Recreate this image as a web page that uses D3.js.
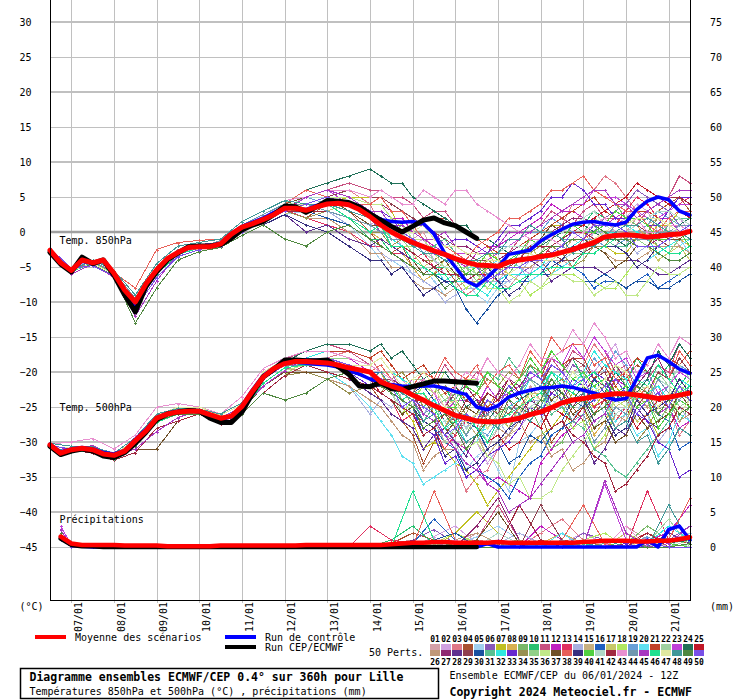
<!DOCTYPE html>
<html><head><meta charset="utf-8">
<script src="https://cdn.jsdelivr.net/npm/d3@7"></script>
<style>body{margin:0;background:#fff}svg{display:block}</style>
</head><body><svg id="c" width="740" height="700"></svg>
<script>
// ---------------- DATA ----------------
const DAY_LABELS = ["07/01","08/01","09/01","10/01","11/01","12/01","13/01","14/01","15/01","16/01","17/01","18/01","19/01","20/01","21/01"];
const DAY_HOURS = [12,36,60,84,108,132,156,180,204,228,252,276,300,324,348];
const LEFT_TICKS = [30,25,20,15,10,5,0,-5,-10,-15,-20,-25,-30,-35,-40,-45];
const RIGHT_TICKS = [75,70,65,60,55,50,45,40,35,30,25,20,15,10,5,0];
const MEMBER_LABELS = ["01","02","03","04","05","06","07","08","09","10","11","12","13","14","15","16","17","18","19","20","21","22","23","24","25","26","27","28","29","30","31","32","33","34","35","36","37","38","39","40","41","42","43","44","45","46","47","48","49","50"];
const MEMBER_COLORS = ["#d4a0a8","#d0a0e0","#e07888","#a85030","#a0d0f0","#8858b8","#c0c020","#d8b050","#78b868","#28c070","#c85080","#c020c0","#e03060","#a8b0e0","#c8b080","#2060c0","#c8c868","#b0e860","#68a0d8","#60e0f0","#c04028","#a0d0a0","#c040d8","#207058","#c01828",
"#c09878","#902870","#603090","#904050","#1850a0","#58c090","#30e8e0","#6828d0","#989050","#90d088","#c0e888","#705028","#e86058","#383080","#50d040","#b0d8c8","#a02840","#e890d0","#7098b0","#a838c0","#20e090","#e0e8a0","#409898","#508840","#7850e8"];

// time steps (hours after 06/01 12Z)
const MAIN_HOURS = d3.range(0, 361, 6);
const MEMBER_HOURS = d3.range(0, 181, 12).concat(d3.range(186, 361, 6));
const PRECIP_MAIN_HOURS = d3.range(6, 361, 6);
const PRECIP_MEMBER_HOURS = [6].concat(d3.range(12, 361, 12));

const T850_MEAN = [-2.6,-4.4,-5.5,-4.0,-4.4,-4.0,-5.9,-8.3,-10.0,-7.4,-5.4,-3.8,-2.9,-2.2,-2.1,-2.1,-1.7,-0.3,0.7,1.2,1.8,2.5,3.4,3.4,3.1,3.6,4.0,4.1,3.9,3.2,2.2,1.0,0.0,-0.8,-1.5,-2.1,-2.7,-3.2,-3.8,-4.3,-4.7,-4.8,-4.9,-4.3,-4.0,-3.8,-3.5,-3.3,-2.9,-2.5,-2.0,-1.5,-0.7,-0.5,-0.4,-0.5,-0.7,-0.6,-0.4,-0.3,0.1];
const T850_OPER = [-2.9,-4.6,-5.7,-3.6,-4.5,-4.0,-6.2,-9.0,-11.4,-7.8,-5.7,-4.0,-3.0,-2.1,-2.0,-2.0,-1.8,-0.9,0.3,1.0,1.5,2.5,3.7,3.6,2.8,3.6,4.5,4.4,4.2,3.6,2.6,1.7,0.8,0.0,0.8,1.7,2.0,1.3,0.9,0.0,-0.9];
const T850_CONTROL = [-2.7,-4.5,-5.6,-4.2,-4.5,-4.1,-6.0,-8.6,-10.5,-7.6,-5.5,-3.9,-3.0,-2.3,-2.0,-2.0,-1.6,-0.2,0.8,1.4,2.0,2.8,3.5,3.4,3.2,3.8,4.2,4.3,4.0,3.5,2.5,1.8,1.5,1.4,1.5,1.2,-0.3,-3.0,-5.0,-7.0,-7.7,-6.5,-5.0,-3.2,-2.9,-2.6,-1.3,-0.4,0.4,1.1,1.4,1.5,1.2,1.0,1.4,3.2,4.4,5.0,4.6,3.0,2.4];

const T500_MEAN = [-30.4,-31.6,-31.1,-30.9,-31.1,-31.7,-31.9,-31.3,-29.8,-28.4,-26.6,-26.0,-25.7,-25.6,-25.6,-26.1,-26.6,-26.3,-24.9,-22.7,-20.7,-19.5,-18.8,-18.5,-18.5,-18.6,-18.7,-19.0,-19.4,-19.7,-20.0,-21.4,-22.0,-22.5,-23.3,-24.0,-24.8,-25.5,-26.2,-26.6,-27.0,-27.1,-27.1,-26.9,-26.6,-26.1,-25.7,-25.1,-24.4,-24.0,-23.8,-23.5,-23.3,-23.1,-23.1,-23.3,-23.5,-23.8,-23.6,-23.3,-23.0];
const T500_OPER = [-30.6,-31.8,-31.3,-31.0,-31.3,-32.0,-32.2,-31.5,-30.2,-28.6,-26.8,-26.0,-25.7,-25.5,-25.6,-26.6,-27.2,-27.2,-25.7,-23.0,-20.7,-19.6,-18.3,-18.3,-18.4,-18.4,-18.3,-19.2,-20.3,-22.0,-22.1,-21.5,-22.4,-22.5,-22.1,-21.7,-21.3,-21.3,-21.4,-21.5,-21.6];
const T500_CONTROL = [-30.3,-31.4,-31.0,-30.8,-31.0,-31.5,-31.7,-31.2,-29.6,-28.2,-26.5,-25.9,-25.6,-25.5,-25.7,-26.2,-26.8,-26.4,-24.8,-22.5,-20.5,-19.4,-18.7,-18.6,-18.7,-18.9,-19.0,-19.3,-19.8,-20.3,-21.0,-21.5,-21.8,-22.0,-22.1,-22.0,-22.0,-22.3,-22.8,-23.2,-25.0,-25.4,-24.8,-23.6,-23.0,-22.6,-22.3,-22.2,-22.0,-22.2,-22.6,-23.0,-23.5,-24.0,-23.8,-21.0,-18.0,-17.6,-18.5,-19.6,-20.2];

const PRECIP_MEAN = [1.5,0.5,0.3,0.3,0.3,0.3,0.2,0.2,0.2,0.2,0.1,0.1,0.1,0.1,0.1,0.2,0.2,0.2,0.2,0.2,0.2,0.2,0.2,0.3,0.3,0.3,0.3,0.3,0.3,0.3,0.3,0.4,0.5,0.6,0.6,0.7,0.7,0.6,0.6,0.6,0.6,0.7,0.6,0.6,0.6,0.6,0.6,0.6,0.6,0.7,0.8,0.9,0.9,0.9,0.8,0.8,0.9,0.9,1.1,1.4];
const PRECIP_OPER = [1.2,0.3,0.1,0.1,0,0,0,0,0,0,0,0,0,0,0,0,0,0,0,0,0,0,0,0,0,0,0,0,0,0,0,0,0,0,0,0,0,0,0,0];
const PRECIP_CONTROL = [1.3,0.4,0.1,0,0,0,0,0,0,0,0,0,0,0,0,0,0,0,0,0,0,0,0,0,0,0,0,0,0,0,0,0,0,0,0,0,0,0,0,0,0.5,0,0,0,0,0,0,0,0,0,0,0,0,0,0,1,0,2.5,3,1];

// member starts (0h..132h every 12h), a few close variants
const T850_START_A = [-2.5,-5.5,-4.5,-6,-10,-5.5,-3,-2,-1.5,0.5,2,3.5];
const T850_START_B = [-2.8,-5.8,-4.2,-5.7,-9.5,-5,-2.5,-2.2,-1.2,1,2.5,4];
const T850_START_C = [-2.3,-5.2,-4.8,-6.3,-11,-6.5,-3.5,-2.5,-2,0,1.5,3];
const T850_START_D = [-2.6,-6,-4.6,-6.5,-12,-7,-3,-1.8,-1.5,0.5,2,3];
const T850_START_E = [-2.4,-5.5,-4,-5.5,-9,-4.5,-2,-1.5,-1,1.5,3,4.5];
const T850_START_F = [-3,-5.7,-4.4,-6,-10.5,-6,-3.2,-2.3,-1.7,0.2,1.8,3.2];
const T850_START_G = [-2.7,-5.3,-4.7,-6.2,-13,-8,-4,-2.8,-2.2,-0.5,1,2.5];
const T850_START_H = [-2.5,-5.6,-4.3,-5.8,-8,-2.5,-1.5,-1.2,-1,1,2.5,4];

// each member: start (12) + 144..180h (4) + 186..360h every 6h (30)
const T850_MEMBERS = [
 [...T850_START_A,5,6,5,3, 3,1,-1,-1,0,-3,-5,-5,-5,-6,-5,-7,-8,-6,-4,-5,-4,-4,-5,-3,0,-1,-2,0,2,1,1,0,-2,-1],
 [...T850_START_B,6,5,3,1, 2,0,-2,-2,-1,-4,-6,-6,-5,-8,-9,-7,-5,-5,-6,-3,-1,-2,-3,-1,1,0,1,2,4,3,0,1,2,0],
 [...T850_START_C,4,5,6,4, 1,1,-1,-2,-3,-5,-5,-7,-9,-8,-5,-6,-5,-4,-1,-2,-1,1,4,5,6,8,7,5,3,2,1,-1,0,-2],
 [...T850_START_D,2,4,3,0, -2,-3,-2,-5,-7,-6,-5,-7,-7,-6,-4,-5,-4,-3,-2,-4,-6,-5,-5,-3,-1,-1,0,1,3,2,3,4,5,3],
 [...T850_START_G,3,2,1,-2, -4,-4,-5,-6,-5,-7,-9,-8,-7,-9,-10,-8,-7,-6,-4,-5,-5,-4,-3,-2,-2,0,0,1,2,0,-1,-2,-1,-3],
 [...T850_START_H,4,5,4,2, 0,0,1,-1,-3,-2,-1,-3,-4,-4,-3,-5,-7,-6,-5,-4,-3,-2,0,0,0,2,3,4,6,5,4,3,1,2],
 [...T850_START_E,3,4,5,5, 5,3,0,1,-1,-1,0,-2,-3,-3,-2,-4,-4,-3,-2,-1,1,1,0,0,-2,-2,-3,-3,-1,-1,1,1,3,2],
 [...T850_START_F,4,3,2,0, -1,-3,-3,-5,-7,-6,-4,-5,-5,-4,-3,-5,-6,-7,-7,-6,-6,-4,-2,-2,0,-1,0,0,1,-1,-2,-3,-1,-2],
 [...T850_START_A,4,4,3,1, 1,-1,-1,-3,-5,-4,-3,-4,-5,-5,-5,-6,-6,-4,-2,-2,-2,-1,0,1,2,3,4,2,1,0,-2,-1,0,1],
 [...T850_START_B,3,4,2,-1, -1,-3,-3,-4,-6,-5,-5,-6,-7,-6,-4,-4,-3,-2,-2,-1,1,0,0,1,3,2,0,1,0,-1,-3,-2,-1,0],
 [...T850_START_C,5,6,7,6, 6,5,5,4,2,3,3,1,0,-1,-2,-3,-3,-1,0,1,3,2,1,3,4,2,2,1,1,3,4,5,8,7],
 [...T850_START_E,4,5,5,3, 3,2,2,0,-1,-2,-3,-4,-5,-3,-2,-2,-1,0,1,2,4,3,3,2,1,1,2,3,5,4,2,2,0,1],
 [...T850_START_F,2,1,0,-2, -2,-3,-3,-4,-3,-5,-6,-6,-8,-7,-6,-7,-6,-5,-4,-4,-2,-3,-3,-1,0,1,1,3,5,4,2,3,4,5],
 [...T850_START_D,4,3,1,-1, -3,-4,-4,-6,-7,-8,-10,-9,-8,-8,-7,-7,-7,-6,-4,-5,-4,-3,-2,-2,0,0,0,-1,-3,-2,-1,-1,1,0],
 [...T850_START_A,3,4,4,2, 2,0,-1,-2,-2,-3,-4,-3,-3,-4,-6,-5,-4,-5,-5,-4,-3,-3,-1,-2,-2,-1,1,0,0,1,2,0,-1,-1],
 [...T850_START_B,4,5,4,3, 3,1,0,-1,-1,-3,-4,-5,-5,-7,-8,-8,-6,-7,-7,-6,-4,-5,-5,-6,-8,-7,-7,-8,-7,-6,-8,-7,-6,-5],
 [...T850_START_G,4,3,4,2, 1,-1,-1,-3,-5,-4,-3,-5,-6,-5,-4,-4,-4,-3,-2,-4,-4,-3,-2,-1,1,0,0,-1,-1,-2,-4,-3,-2,-4],
 [...T850_START_E,4,5,3,1, 1,-1,-2,-2,-3,-4,-5,-6,-8,-7,-5,-6,-6,-7,-9,-8,-7,-6,-6,-7,-7,-8,-8,-6,-4,-5,-6,-6,-5,-4],
 [...T850_START_F,5,4,3,2, 1,0,0,-1,-3,-2,-1,-2,-3,-3,-3,-2,-2,-1,0,0,2,1,0,-1,-1,-2,-2,-1,0,1,3,2,1,0],
 [...T850_START_C,3,3,2,1, 1,-1,-1,-3,-4,-5,-7,-6,-5,-5,-5,-4,-4,-5,-7,-6,-6,-5,-4,-3,-3,-2,-2,-3,-5,-4,-3,-2,-2,-1],
 [...T850_START_A,5,6,5,3, 3,2,0,1,2,2,2,1,0,-1,-2,-3,-3,-2,-1,0,1,2,3,4,5,3,2,2,3,3,2,1,1,2],
 [...T850_START_D,3,4,4,2, 1,0,-1,-2,-2,-4,-5,-5,-5,-6,-7,-6,-6,-5,-4,-3,-2,-2,-1,0,2,1,0,0,0,-1,-1,0,1,1],
 [...T850_START_E,5,6,4,3, 3,2,1,0,1,-1,-2,-3,-3,-4,-4,-3,-2,-1,0,1,2,3,4,4,6,5,5,4,3,2,2,3,4,4],
 [...T850_START_B,6,7,8,9, 8,7,7,5,4,3,2,1,1,-1,-1,-2,-3,-3,-3,-2,-1,0,1,1,0,-1,-1,-2,-1,0,0,1,1,2],
 [...T850_START_F,5,5,4,3, 2,1,0,-1,-2,-3,-3,-5,-7,-6,-6,-5,-4,-4,-4,-3,-2,-1,0,1,2,3,4,5,7,6,5,4,3,2],
 [...T850_START_C,2,2,0,-3, -3,-5,-5,-7,-8,-8,-9,-8,-7,-7,-7,-6,-6,-5,-5,-4,-3,-3,-2,-2,-2,-3,-4,-4,-4,-3,-2,-2,-2,-3],
 [...T850_START_A,5,6,5,4, 4,3,3,2,1,0,-1,-2,-2,-3,-4,-4,-3,-2,-2,-1,0,1,2,2,1,0,-1,-1,-2,-2,-1,0,0,1],
 [...T850_START_G,0,1,-1,-2, -1,-2,-3,-4,-5,-6,-8,-7,-7,-6,-5,-5,-4,-4,-4,-5,-7,-6,-5,-5,-5,-6,-5,-4,-4,-5,-6,-6,-5,-4],
 [...T850_START_E,4,5,6,5, 5,4,3,2,1,0,-1,-2,-3,-4,-4,-5,-4,-3,-2,-2,-3,-4,-4,-3,-2,-1,0,1,1,0,-1,-2,-1,-1],
 [...T850_START_D,3,2,1,-1, -2,-3,-4,-5,-6,-6,-7,-8,-11,-13,-11,-9,-8,-7,-6,-6,-6,-6,-7,-7,-7,-6,-7,-8,-7,-7,-8,-8,-7,-6],
 [...T850_START_B,4,4,3,1, 1,0,1,-1,-2,-2,-1,-3,-4,-4,-3,-4,-5,-3,-2,-2,0,-1,-1,0,1,-1,-2,-2,0,-1,-1,1,2,2],
 [...T850_START_F,4,5,4,2, 2,-1,-2,-4,-5,-6,-8,-7,-7,-8,-9,-7,-6,-6,-6,-5,-3,-3,-2,-1,1,0,0,1,0,-1,-3,-2,-1,0],
 [...T850_START_A,5,6,5,3, 3,2,0,1,1,0,-2,-1,-1,-2,-3,-1,1,1,2,3,5,5,7,6,4,4,2,2,3,1,1,3,5,5],
 [...T850_START_C,2,3,2,0, 0,-2,-1,-3,-4,-4,-3,-5,-6,-6,-4,-5,-3,-3,-3,-2,-2,-3,-5,-4,-2,-2,0,-1,-1,0,2,1,0,-1],
 [...T850_START_E,3,4,3,1, 1,-1,-1,-3,-4,-5,-6,-6,-5,-7,-8,-6,-4,-4,-4,-3,-1,-2,-3,-3,-1,-1,1,0,-1,-2,-2,-3,-1,-1],
 [...T850_START_D,4,5,5,4, 4,2,1,-1,-1,-3,-5,-4,-4,-6,-8,-8,-10,-9,-7,-8,-6,-6,-7,-7,-9,-8,-7,-9,-9,-7,-5,-6,-6,-5],
 [...T850_START_B,5,5,3,1, 1,-2,-2,-4,-6,-5,-4,-6,-6,-5,-3,-4,-4,-3,-1,-1,1,0,0,-1,-2,-3,-5,-4,-2,-2,0,-1,-1,0],
 [...T850_START_H,6,5,4,4, 5,3,3,1,-1,-1,-2,-3,-4,-2,-1,0,2,2,3,4,6,6,7,8,6,5,4,3,3,1,0,2,3,3],
 [...T850_START_G,1,0,-2,-4, -4,-6,-5,-7,-9,-8,-7,-7,-6,-6,-5,-7,-9,-8,-6,-6,-5,-4,-2,-3,-3,-2,-2,-3,-5,-4,-2,-3,-3,-2],
 [...T850_START_F,4,4,3,2, 2,0,0,-2,-3,-3,-3,-4,-6,-5,-3,-4,-4,-3,-1,-2,-2,-1,1,0,0,1,3,2,2,1,-1,-1,0,-2],
 [...T850_START_A,5,5,4,2, 2,0,0,-2,-3,-4,-5,-5,-4,-4,-3,-3,-2,-2,-2,-1,0,0,1,2,3,1,0,0,1,2,3,3,2,1],
 [...T850_START_C,3,3,2,0, 1,-2,-2,-3,-4,-5,-6,-6,-7,-6,-5,-5,-5,-4,-2,-2,-2,-1,0,0,-1,-1,0,1,2,3,4,5,5,4],
 [...T850_START_E,5,6,6,5, 6,5,4,4,6,5,4,6,6,4,3,2,1,0,-1,-1,-1,-2,-1,0,1,2,0,1,2,0,0,1,1,0],
 [...T850_START_B,4,3,2,1, 0,-1,-1,-2,-2,-3,-4,-4,-4,-5,-6,-5,-4,-4,-4,-3,-2,-2,-3,-2,-1,-1,1,0,-1,-1,0,0,1,1],
 [...T850_START_D,5,6,5,3, 3,1,1,0,-1,-1,0,-2,-3,-3,-3,-2,0,0,0,1,2,3,4,5,6,6,4,4,2,3,4,5,6,6],
 [...T850_START_F,3,4,2,0, 1,-2,-2,-4,-5,-6,-6,-8,-9,-9,-7,-8,-8,-7,-6,-6,-5,-5,-5,-3,-3,-2,-1,-1,-2,-2,-2,-3,-3,-2],
 [...T850_START_A,4,5,4,2, 2,1,0,0,1,-1,-2,-2,-3,-3,-4,-4,-6,-5,-3,-4,-4,-3,-3,-2,-1,0,1,1,2,2,2,1,0,0],
 [...T850_START_E,4,4,3,2, 1,0,-1,-2,-3,-3,-4,-4,-4,-4,-3,-3,-1,-1,1,0,0,-1,-3,-2,-2,-1,0,1,1,2,1,0,0,-1],
 [-2.7,-5.3,-4.7,-6.2,-13,-8,-4,-2.8,-2.2,-0.5,1,-1,-2,0,1,-1, -2,-3,-4,-5,-6,-6,-8,-7,-6,-6,-5,-5,-4,-4,-4,-3,-2,-2,-1,-1,1,0,-1,-1,-2,-2,-3,-4,-4,-3],
 [...T850_START_C,4,5,4,3, 2,1,0,-1,-2,-3,-3,-4,-4,-5,-7,-6,-5,-5,-4,-4,-3,-2,0,-1,1,1,1,0,-2,-2,-2,-1,0,1]
];

const T500_START_A = [-30.5,-31,-31,-32,-30,-26.5,-25.5,-25.5,-26.5,-25,-21,-19];
const T500_START_B = [-30.2,-30.6,-30.7,-31.6,-29.4,-26,-25.2,-25.3,-26,-24.4,-20.4,-18.6];
const T500_START_C = [-30.8,-31.4,-31.3,-32.4,-30.6,-27.2,-26,-25.8,-27,-25.6,-21.6,-19.4];
const T500_START_D = [-30.4,-31.2,-30.5,-32,-31,-28.5,-26.5,-25.5,-26.8,-25.3,-22,-19.8];
const T500_START_E = [-30.6,-30.9,-31.2,-31.8,-29.7,-26.2,-25,-25,-26.2,-24.6,-20,-18.2];
const T500_START_F = [-30.5,-31.1,-31.6,-32.6,-31.5,-28,-27,-26,-27.5,-26,-23,-20.5];
const T500_START_G = [-30.5,-31,-31,-32,-31,-31,-27,-26,-27,-25.5,-22,-20];
const T500_START_H = [-30.3,-30,-29.5,-31,-29,-25,-24.5,-25,-26,-23.5,-19.5,-18];

const T500_MEMBERS = [
 [...T500_START_A,-18,-18,-19,-20, -21,-22,-25,-24,-27,-26,-30,-28,-27,-29,-31,-28,-25,-26,-22,-24,-25,-23,-20,-22,-25,-24,-28,-26,-23,-25,-21,-23,-24,-22],
 [...T500_START_B,-18,-17,-18,-19, -18,-20,-21,-23,-26,-25,-24,-27,-31,-30,-33,-31,-29,-28,-26,-24,-20,-21,-18,-19,-20,-18,-16,-20,-23,-22,-26,-24,-21,-23],
 [...T500_START_C,-19,-18,-17,-18, -20,-21,-22,-25,-28,-29,-31,-33,-37,-35,-34,-31,-29,-27,-24,-25,-22,-22,-20,-19,-16,-18,-21,-20,-24,-23,-22,-25,-29,-27],
 [...T500_START_D,-19,-19,-20,-22, -24,-26,-27,-29,-33,-30,-28,-29,-26,-27,-24,-25,-26,-24,-23,-26,-30,-28,-25,-27,-26,-24,-21,-21,-19,-20,-23,-22,-25,-24],
 [...T500_START_E,-19,-19,-20,-21, -21,-23,-24,-26,-29,-28,-27,-30,-34,-32,-31,-34,-37,-30,-29,-27,-24,-25,-27,-24,-23,-26,-29,-28,-26,-27,-24,-25,-22,-24],
 [...T500_START_H,-18,-18,-18,-19, -18,-20,-22,-21,-20,-22,-24,-23,-23,-25,-28,-27,-24,-26,-25,-24,-21,-22,-19,-20,-22,-21,-24,-23,-22,-24,-20,-22,-23,-21],
 [...T500_START_A,-18,-19,-20,-21, -23,-24,-25,-27,-31,-30,-31,-33,-34,-36,-39,-37,-35,-33,-31,-29,-28,-26,-23,-24,-25,-23,-22,-24,-27,-26,-29,-28,-25,-26],
 [...T500_START_F,-19,-18,-19,-21, -20,-23,-25,-24,-23,-26,-28,-25,-22,-24,-25,-23,-21,-22,-20,-21,-24,-23,-26,-25,-29,-27,-25,-26,-22,-24,-23,-22,-19,-21],
 [...T500_START_B,-19,-19,-19,-20, -21,-22,-22,-25,-28,-27,-25,-27,-29,-26,-24,-25,-28,-26,-25,-28,-31,-30,-27,-28,-26,-25,-21,-23,-24,-22,-25,-24,-27,-25],
 [...T500_START_C,-18,-18,-19,-20, -19,-21,-20,-22,-25,-23,-22,-25,-28,-26,-24,-25,-22,-23,-19,-21,-22,-20,-18,-21,-24,-23,-20,-22,-18,-20,-21,-19,-22,-20],
 [...T500_START_E,-17,-16,-17,-19, -20,-21,-24,-23,-21,-22,-19,-21,-22,-20,-21,-22,-25,-24,-21,-22,-18,-20,-17,-18,-15,-17,-20,-19,-23,-21,-19,-20,-16,-18],
 [...T500_START_A,-18,-17,-18,-20, -21,-22,-23,-24,-26,-27,-29,-30,-31,-33,-36,-35,-36,-37,-38,-33,-31,-29,-28,-26,-23,-24,-21,-22,-25,-23,-26,-25,-28,-27],
 [...T500_START_D,-19,-20,-21,-22, -23,-24,-27,-26,-27,-28,-31,-29,-27,-28,-25,-26,-27,-25,-23,-24,-22,-23,-24,-22,-25,-24,-27,-25,-22,-23,-20,-21,-23,-22],
 [...T500_START_B,-19,-20,-22,-26, -24,-25,-23,-24,-26,-24,-23,-25,-28,-26,-25,-27,-29,-26,-24,-24,-22,-23,-24,-22,-20,-21,-24,-23,-27,-26,-30,-28,-25,-27],
 [...T500_START_C,-19,-19,-20,-20, -21,-21,-24,-23,-23,-25,-28,-27,-27,-29,-32,-30,-29,-28,-25,-26,-25,-24,-22,-23,-21,-22,-25,-24,-23,-25,-26,-24,-22,-23],
 [...T500_START_E,-18,-18,-19,-20, -20,-22,-24,-25,-29,-28,-30,-31,-35,-34,-35,-36,-38,-35,-33,-32,-29,-28,-27,-25,-24,-23,-20,-22,-25,-24,-26,-27,-31,-30],
 [...T500_START_A,-19,-18,-19,-19, -18,-20,-21,-22,-25,-24,-23,-25,-27,-26,-24,-26,-28,-25,-23,-23,-20,-21,-22,-20,-23,-22,-25,-24,-27,-26,-24,-25,-22,-23],
 [...T500_START_F,-18,-19,-20,-21, -22,-23,-26,-24,-22,-23,-20,-22,-21,-21,-18,-20,-22,-21,-24,-23,-26,-25,-28,-27,-31,-29,-26,-27,-23,-24,-20,-22,-23,-21],
 [...T500_START_B,-19,-19,-19,-20, -19,-21,-23,-22,-22,-24,-27,-26,-26,-28,-29,-27,-24,-25,-26,-24,-21,-22,-20,-21,-18,-20,-17,-19,-22,-21,-24,-22,-19,-20],
 [...T500_START_D,-19,-20,-22,-25, -27,-29,-32,-33,-36,-35,-34,-33,-31,-30,-27,-28,-29,-27,-25,-26,-22,-24,-25,-23,-22,-24,-27,-26,-29,-28,-32,-30,-26,-27],
 [...T500_START_E,-18,-17,-17,-18, -17,-19,-21,-20,-19,-21,-23,-22,-24,-23,-25,-24,-22,-23,-20,-21,-17,-19,-18,-18,-21,-19,-22,-20,-18,-19,-16,-18,-19,-17],
 [...T500_START_C,-19,-19,-20,-21, -22,-23,-26,-25,-26,-27,-30,-28,-26,-27,-25,-26,-23,-24,-21,-23,-24,-22,-25,-24,-28,-26,-24,-25,-21,-23,-20,-22,-25,-24],
 [...T500_START_A,-18,-18,-19,-19, -18,-20,-23,-21,-21,-23,-26,-24,-24,-25,-22,-24,-23,-22,-21,-20,-18,-19,-16,-18,-15,-17,-19,-18,-21,-20,-23,-22,-20,-21],
 [...T500_START_B,-17,-16,-16,-17, -16,-18,-17,-19,-21,-20,-20,-22,-25,-24,-27,-25,-22,-24,-23,-22,-20,-21,-24,-22,-24,-23,-20,-22,-23,-21,-17,-19,-16,-18],
 [...T500_START_F,-19,-19,-20,-21, -23,-22,-25,-24,-24,-26,-29,-27,-26,-28,-30,-29,-31,-30,-27,-28,-25,-26,-27,-25,-23,-24,-26,-25,-28,-26,-24,-25,-22,-24],
 [...T500_START_C,-20,-21,-22,-24, -25,-27,-29,-30,-34,-32,-31,-31,-30,-29,-26,-28,-29,-27,-30,-29,-32,-31,-34,-33,-31,-30,-26,-27,-24,-25,-23,-24,-27,-26],
 [...T500_START_E,-18,-18,-19,-20, -19,-21,-23,-22,-21,-23,-25,-23,-22,-24,-26,-23,-21,-22,-20,-21,-23,-22,-25,-23,-21,-22,-19,-21,-22,-20,-18,-21,-23,-22],
 [...T500_START_D,-19,-20,-21,-23, -24,-26,-27,-28,-31,-29,-28,-30,-32,-29,-27,-28,-25,-26,-24,-25,-28,-27,-30,-29,-33,-31,-28,-29,-25,-27,-28,-26,-24,-25],
 [...T500_START_A,-18,-18,-19,-20, -21,-21,-22,-23,-26,-25,-24,-26,-29,-27,-25,-26,-23,-24,-21,-22,-19,-20,-18,-19,-21,-20,-23,-22,-25,-23,-20,-21,-18,-20],
 [...T500_START_B,-19,-19,-20,-21, -20,-22,-24,-23,-22,-24,-27,-26,-27,-28,-31,-30,-33,-32,-29,-30,-28,-27,-24,-25,-21,-23,-24,-22,-25,-24,-27,-26,-23,-25],
 [...T500_START_C,-18,-19,-19,-20, -21,-22,-23,-24,-27,-25,-24,-24,-21,-22,-20,-21,-18,-20,-21,-22,-26,-25,-27,-28,-31,-32,-34,-35,-33,-31,-29,-27,-23,-24],
 [...T500_START_E,-18,-17,-18,-19, -18,-20,-21,-22,-25,-24,-26,-27,-30,-29,-28,-27,-25,-24,-21,-22,-20,-21,-22,-20,-17,-19,-20,-21,-24,-23,-22,-24,-21,-22],
 [...T500_START_A,-19,-19,-20,-22, -23,-24,-25,-26,-28,-29,-33,-32,-35,-34,-32,-31,-30,-28,-25,-26,-23,-24,-21,-22,-20,-21,-24,-23,-26,-27,-30,-31,-35,-34],
 [...T500_START_F,-20,-21,-23,-22, -23,-21,-20,-22,-25,-23,-22,-24,-26,-23,-21,-22,-20,-21,-19,-20,-22,-21,-24,-23,-26,-25,-28,-27,-30,-28,-25,-26,-23,-24],
 [...T500_START_B,-19,-18,-18,-19, -20,-20,-22,-21,-21,-22,-24,-23,-24,-25,-28,-26,-25,-27,-26,-25,-22,-23,-20,-22,-23,-21,-19,-22,-25,-24,-27,-25,-22,-23],
 [...T500_START_D,-19,-19,-20,-21, -20,-22,-23,-24,-27,-26,-25,-28,-31,-30,-32,-33,-36,-35,-38,-38,-37,-34,-32,-30,-28,-27,-24,-25,-23,-24,-21,-23,-26,-25],
 [...T500_START_G,-20,-20,-21,-22, -23,-24,-26,-25,-24,-26,-29,-27,-25,-26,-23,-24,-22,-23,-21,-22,-24,-23,-26,-25,-28,-27,-30,-29,-26,-28,-27,-26,-23,-25],
 [...T500_START_A,-18,-18,-19,-20, -19,-21,-23,-22,-20,-21,-18,-20,-21,-19,-22,-20,-19,-21,-17,-19,-15,-17,-16,-16,-19,-18,-21,-20,-24,-22,-19,-21,-17,-19],
 [...T500_START_C,-19,-20,-21,-22, -22,-23,-24,-25,-27,-28,-32,-31,-34,-33,-31,-30,-28,-27,-26,-25,-22,-23,-25,-24,-27,-26,-29,-28,-24,-26,-25,-24,-21,-23],
 [...T500_START_E,-18,-18,-19,-20, -21,-22,-25,-24,-27,-26,-25,-25,-22,-23,-20,-22,-23,-21,-18,-20,-17,-19,-21,-20,-22,-21,-23,-22,-25,-24,-28,-26,-24,-25],
 [...T500_START_B,-19,-19,-20,-21, -22,-23,-25,-24,-23,-25,-27,-26,-28,-27,-30,-28,-27,-26,-25,-24,-21,-22,-20,-21,-24,-23,-26,-25,-23,-24,-21,-22,-19,-21],
 [...T500_START_F,-19,-20,-21,-22, -23,-24,-25,-26,-29,-28,-26,-27,-24,-25,-23,-24,-21,-23,-26,-25,-28,-27,-29,-30,-32,-33,-37,-36,-34,-32,-29,-28,-25,-26],
 [...T500_START_H,-17,-17,-18,-19, -20,-21,-23,-22,-21,-23,-25,-22,-20,-21,-18,-20,-21,-19,-16,-18,-18,-17,-14,-16,-13,-15,-18,-17,-20,-19,-16,-18,-15,-16],
 [...T500_START_A,-19,-19,-20,-21, -20,-22,-23,-24,-26,-25,-28,-26,-29,-27,-26,-25,-22,-23,-21,-22,-25,-24,-27,-26,-30,-28,-25,-26,-23,-24,-21,-23,-24,-22],
 [...T500_START_D,-18,-18,-19,-20, -21,-22,-23,-24,-26,-27,-29,-31,-33,-34,-36,-37,-40,-39,-38,-36,-34,-32,-30,-29,-27,-26,-23,-24,-22,-23,-26,-25,-22,-24],
 [...T500_START_C,-19,-19,-20,-21, -22,-22,-24,-23,-23,-25,-28,-27,-26,-28,-30,-27,-26,-25,-24,-23,-20,-22,-23,-21,-20,-22,-24,-23,-21,-22,-19,-21,-23,-22],
 [...T500_START_E,-18,-18,-19,-19, -18,-20,-22,-21,-20,-22,-25,-24,-27,-26,-28,-27,-25,-26,-23,-24,-25,-23,-20,-22,-23,-21,-19,-20,-23,-22,-25,-23,-26,-24],
 [...T500_START_B,-19,-19,-20,-21, -20,-22,-23,-24,-27,-26,-29,-28,-30,-29,-27,-28,-25,-26,-27,-25,-22,-24,-24,-23,-26,-25,-28,-27,-30,-29,-33,-31,-28,-29],
 [-30.5,-31,-31,-32,-30.5,-27,-26,-26,-27,-26,-23,-24,-23,-21,-20,-21, -22,-23,-24,-25,-28,-27,-26,-28,-31,-29,-27,-27,-24,-25,-26,-24,-21,-23,-25,-24,-26,-25,-23,-24,-22,-23,-26,-24,-26,-25],
 [...T500_START_A,-18,-18,-19,-20, -21,-22,-25,-24,-25,-26,-29,-28,-26,-27,-24,-25,-22,-23,-20,-21,-19,-20,-22,-21,-24,-22,-21,-23,-26,-24,-23,-25,-22,-24]
];

// precipitation members: 6h, then every 12h up to 360h
const PRECIP_MEMBERS = [
 [2,0,0,0,0,0,0,0,0,0,0,0,0,0,0,0,0.5,1,0,0,2,0.5,0,0,1,0,0,3,1,0,0.5],
 [1.5,0,0,0,0,0,0,0,0,0,0,0,0,0,0,0.3,0,0,1.5,3,0.5,0,0,0,0.5,2,0.5,0,0,1,2],
 [1,0.2,0,0,0,0,0,0,0,0,0,0,0,0,0,0,0,0,0,0.5,1,0.5,0,2,4,1,0,0,0.5,0,1],
 [2.5,0,0,0,0,0,0,0,0,0,0,0,0,0,0,0,0.5,2,1,0,0,0,1,0,0,0.5,0,0,2,0.5,0],
 [1,0,0,0,0,0,0,0,0,0,0,0,0,0,0,0,0,0,0.5,0,1.5,3,1,0,0,0,0.5,1,0,0,2],
 [3,0.3,0,0,0,0,0,0,0,0,0,0,0,0,0,0,0,1,2.5,0.5,0,0,0,0.5,0,2,1,0,0,1,3],
 [1.5,0,0,0,0,0,0,0,0,0,0,0,0,0,0,0,0,0,0,2,5,2,0.5,0,0,0,1,0.5,0,0,0],
 [2,0,0,0,0,0,0,0,0,0,0,0,0,0,0,0,0,0,0.5,1,0,0,0,0.5,2,0.5,0,1,0,0.5,1],
 [1,0,0,0,0,0,0,0,0,0,0,0,0,0,0,0.5,0,0,0,0,0,0.5,1,0,0,0,0,0.5,3,1,0],
 [2,0,0,0,0,0,0,0,0,0,0,0,0,0,0,0,1,3,0.5,0,0,0,0,1,0,0,0.5,0,0,0,1],
 [1.5,0,0,0,0,0,0,0,0,0,0,0,0,0,0,0,0,0,0,0.5,1,6,1,0,0,0,0.5,0,0,0.5,0],
 [2.5,0,0,0,0,0,0,0,0,0,0,0,0,0,0,0,0,0,0,0,0.5,1,0,3,1,0,0,0,1,2,6],
 [1,0,0,0,0,0,0,0,0,0,0,0,0,0,0,3,1,0.5,0,0,0,0,0,0,1,0,0,0,8,1,0],
 [2,0,0,0,0,0,0,0,0,0,0,0,0,0,0,0,0,0,1,0,0,0.5,2,0.5,0,0,0,1,0,0,0],
 [1,0,0,0,0,0,0,0,0,0,0,0,0,0,0,0,0,0,0,0,0.5,0,0,0,0,0.5,1,0.5,0,0,0.5],
 [1.5,0,0,0,0,0,0,0,0,0,0,0,0,0,0,0,0,0.5,4,1,0,0,0.5,0,0,0,0,0,0,1,0],
 [2,0,0,0,0,0,0,0,0,0,0,0,0,0,0,0,0,0,0,0,0.5,0,0,1,0.5,0,0,2,0.5,0,0],
 [1,0,0,0,0,0,0,0,0,0,0,0,0,0,0,0,0,0,0.5,2,0.5,0,0,0,0,1,2,0,0,0,1],
 [2,0,0,0,0,0,0,0,0,0,0,0,0,0,0,0,0,1,0,0,0,1,0,0,0,0,0.5,0,1.5,0,0],
 [1.5,0,0,0,0,0,0,0,0,0,0,0,0,0,0,0,0,0,0,0,1,0,0,0,2,0,0,0.5,0,0,0],
 [2.5,0,0,0,0,0,0,0,0,0,0,0,0,0,0,0.5,0,0,0,0,0,0,0.5,0,1,0.5,0,0,0,1,0.5],
 [1,0,0,0,0,0,0,0,0,0,0,0,0,0,0,0,0,0,1,0,0,0,0,0,0,0,1,0,0.5,4,0],
 [3,0.3,0,0,0,0,0,0,0,0,0,0,0,0,0,0,0,0,0,0,0,1,0.5,0,0,0,9,1,0,0,0],
 [1.5,0,0,0,0,0,0,0,0,0,0,0,0,0,0,0,0,0,0,0,0,0,0.5,0,0,0.5,0,1,0,0.5,1],
 [2,0,0,0,0,0,0,0,0,0,0,0,0,0,0,0,0,0,0,0.5,0,0,0,1,0,0,0,0.5,2,0,0],
 [1,0,0,0,0,0,0,0,0,0,0,0,0,0,0,0,0,0,0.5,1,2,0.5,0,0,0,0,0.5,0,0,1,0],
 [2,0,0,0,0,0,0,0,0,0,0,0,0,0,0,0,0,0,0,0,3,7,1,0,0,0,0,0.5,0,0,0],
 [1.5,0,0,0,0,0,0,0,0,0,0,0,0,0,0,0,0,1,0,0,0.5,0,0,0,0,1,0,0,0,2,0.5],
 [2,0,0,0,0,0,0,0,0,0,0,0,0,0,0,0,0,0,0,0,0,0,0,6,1,0,0,0,0,0,1],
 [1,0,0,0,0,0,0,0,0,0,0,0,0,0,0,0,0,0,1,2,0,0,0,0,0.5,0,0,0,1,0,0],
 [2.5,0,0,0,0,0,0,0,0,0,0,0,0,0,0,0,0,0,0,0,0.5,0,1,0,0,0,0.5,1,0,0,0],
 [1.5,0,0,0,0,0,0,0,0,0,0,0,0,0,0,0,0.5,0,0,0,0,1,0,0,0,0,0,0,0.5,3,1],
 [2,0,0,0,0,0,0,0,0,0,0,0,0,0,0,0,0,0,0,1,0,0,0,0,0,0,1,0.5,0,0,0],
 [1,0,0,0,0,0,0,0,0,0,0,0,0,0,0,0,0,0,0,0,0,0.5,0,0,0,1,0,0,0,0,0.5],
 [2,0,0,0,0,0,0,0,0,0,0,0,0,0,0,0,0,0,0,0,0,0,1,0,0,0.5,0,0,0,0,1],
 [1.5,0,0,0,0,0,0,0,0,0,0,0,0,0,0,0,0,0,0.5,0,0,0,0,0,0.5,0,0,0,0,0,0],
 [2,0,0,0,0,0,0,0,0,0,0,0,0,0,0,0,0,0,0,0,1,5,0.5,0,0,0,0,0,0.5,0,0],
 [1,0,0,0,0,0,0,0,0,0,0,0,0,0,0,0,0,0,8,1,0,0,0,0,1,6,0.5,0,0,1,7],
 [2.5,0,0,0,0,0,0,0,0,0,0,0,0,0,0,0,0,0,0,0,0,0,0,0,0,0.5,0,0,1,0,0],
 [1.5,0,0,0,0,0,0,0,0,0,0,0,0,0,0,0,0,0,0,0.5,0,0,0,0,0,0,0,1,0,0.5,0],
 [2,0,0,0,0,0,0,0,0,0,0,0,0,0,0,0,0,0,0,0,0,2,0.5,0,0,0,0,0,0,1,0],
 [1,0,0,0,0,0,0,0,0,0,0,0,0,0,0,0,0,0,0,0,0,0,6,1,0,0,0,0,2,0,0],
 [2,0,0,0,0,0,0,0,0,0,0,0,0,0,0,0,0,0,0,1,0,0,0,0,0.5,0,0,3,0,0,0.5],
 [1.5,0,0,0,0,0,0,0,0,0,0,0,0,0,0,0,0,0,0,0,0,0,0,0,1,0,0,0,0,0,0],
 [2.5,0,0,0,0,0,0,0,0,0,0,0,0,0,0,0,0,0,0,0,0.5,0,0,0,0,0,9.5,2,0,0.5,3],
 [1,0,0,0,0,0,0,0,0,0,0,0,0,0,0,0,0,8,1,0,0,0,0,0,0,0.5,0,0,0,0,0],
 [2,0,0,0,0,0,0,0,0,0,0,0,0,0,0,0,0,0,0,0,0,0,0.5,0,0,0,0,0,1,0,0],
 [1.5,0,0,0,0,0,0,0,0,0,0,0,0,0,0,0,0,0,0,0,0,0,0,0,0,0,1,0,0,6,0.5],
 [2,0,0,0,0,0,0,0,0,0,0,0,0,0,0,0,0,0,0,0,0,0,0,0,0,0,0,0,0,0,0.5],
 [1,0,0,0,0,0,0,0,0,0,0,0,0,0,0,0,0,0,0,0,0,1,0,0,0,0,0,0,0.5,0,0]
];

// ---------------- DRAWING ----------------
const FONT = '"DejaVu Sans Mono", "Liberation Mono", monospace';
const svg = d3.select("#c");
const x = d3.scaleLinear().domain([0, 360]).range([50, 690]);
const yL = d3.scaleLinear().domain([-45, 30]).range([547, 22]);
const yR = d3.scaleLinear().domain([0, 75]).range([547, 22]);
const px = v => Math.round(v) + 0.5;

// grid
const grid = svg.append("g");
grid.selectAll("line.v").data(DAY_HOURS).join("line")
  .attr("x1", d => px(x(d))).attr("x2", d => px(x(d)))
  .attr("y1", 0).attr("y2", 603)
  .attr("stroke", "#c0c0c0").attr("stroke-width", 1);
grid.selectAll("line.h").data(LEFT_TICKS).join("line")
  .attr("x1", 50).attr("x2", 690)
  .attr("y1", d => d % 10 === 0 ? Math.round(yL(d)) : px(yL(d)))
  .attr("y2", d => d % 10 === 0 ? Math.round(yL(d)) : px(yL(d)))
  .attr("stroke", d => d === 0 ? "#a0a0a0" : "#c0c0c0")
  .attr("stroke-width", d => d === 0 ? 2.5 : (d % 10 === 0 ? 2 : 1));

// axes
const axL = svg.append("g").attr("transform", "translate(50,0)")
  .call(d3.axisLeft(yL).tickValues(LEFT_TICKS).tickSize(0).tickFormat(d3.format("d")));
axL.select(".domain").remove();
axL.selectAll("text").attr("x", -30.5).attr("text-anchor", "start").attr("dy", "0.35em")
  .style("font-family", FONT).style("font-size", "10px").attr("fill", "#000");

const axR = svg.append("g").attr("transform", "translate(690,0)")
  .call(d3.axisRight(yR).tickValues(RIGHT_TICKS).tickSize(0).tickFormat(d3.format("d")));
axR.select(".domain").remove();
axR.selectAll("text").attr("x", 20).attr("text-anchor", "start").attr("dy", "0.35em")
  .style("font-family", FONT).style("font-size", "10px").attr("fill", "#000");

const axB = svg.append("g").attr("transform", "translate(0,600)")
  .call(d3.axisBottom(x).tickValues(DAY_HOURS).tickSize(0).tickFormat((d, i) => DAY_LABELS[i]));
axB.select(".domain").remove();
axB.selectAll("text")
  .attr("x", null).attr("y", null).attr("dy", "0.35em")
  .attr("transform", "translate(6.5,2) rotate(-90)")
  .attr("text-anchor", "end")
  .style("font-family", FONT).style("font-size", "10px").attr("fill", "#000");

// series helper
function drawLine(g, vals, hours, ys, color, w, markers) {
  const line = d3.line().defined((d, i) => i < hours.length).x((d, i) => x(hours[i])).y(d => ys(d));
  g.append("path").attr("d", line(vals)).attr("fill", "none")
    .attr("stroke", color).attr("stroke-width", w)
    .attr("stroke-linejoin", "round").attr("stroke-linecap", "round")
    .attr("shape-rendering", markers ? "crispEdges" : null);
  if (markers) {
    const p = d3.path();
    vals.forEach((d, i) => {
      if (i >= hours.length) return;
      const cx = Math.round(x(hours[i])) + 0.5, cy = Math.round(ys(d)) + 0.5;
      p.moveTo(cx - 1.5, cy); p.lineTo(cx + 1.5, cy);
      p.moveTo(cx, cy - 1.5); p.lineTo(cx, cy + 1.5);
    });
    g.append("path").attr("d", p.toString()).attr("stroke", color)
      .attr("stroke-width", 1).attr("fill", "none").attr("shape-rendering", "crispEdges");
  }
}

const members = svg.append("g");
PRECIP_MEMBERS.forEach((m, k) => drawLine(members, m, PRECIP_MEMBER_HOURS, yR, MEMBER_COLORS[k], 1, true));
T500_MEMBERS.forEach((m, k) => drawLine(members, m, MEMBER_HOURS, yL, MEMBER_COLORS[k], 1, true));
T850_MEMBERS.forEach((m, k) => drawLine(members, m, MEMBER_HOURS, yL, MEMBER_COLORS[k], 1, true));

const main = svg.append("g");
drawLine(main, PRECIP_CONTROL, PRECIP_MAIN_HOURS, yR, "#0000ff", 3.5, false);
drawLine(main, T500_CONTROL, MAIN_HOURS, yL, "#0000ff", 3.5, false);
drawLine(main, T850_CONTROL, MAIN_HOURS, yL, "#0000ff", 3.5, false);
drawLine(main, PRECIP_OPER, PRECIP_MAIN_HOURS, yR, "#000000", 4.5, false);
drawLine(main, T500_OPER, MAIN_HOURS, yL, "#000000", 5, false);
drawLine(main, T850_OPER, MAIN_HOURS, yL, "#000000", 5, false);
drawLine(main, PRECIP_MEAN, PRECIP_MAIN_HOURS, yR, "#ff0000", 4.5, false);
drawLine(main, T500_MEAN, MAIN_HOURS, yL, "#ff0000", 5, false);
drawLine(main, T850_MEAN, MAIN_HOURS, yL, "#ff0000", 5, false);

// frame
const frame = svg.append("g").attr("stroke", "#000").attr("shape-rendering", "crispEdges");
frame.append("line").attr("x1", 50.5).attr("x2", 50.5).attr("y1", 0).attr("y2", 600).attr("stroke-width", 1.5);
frame.append("line").attr("x1", 690.5).attr("x2", 690.5).attr("y1", 0).attr("y2", 600).attr("stroke-width", 1.5);
frame.append("line").attr("x1", 50).attr("x2", 691).attr("y1", 600.5).attr("y2", 600.5).attr("stroke-width", 1);

// texts
function txt(s, xx, yy, opts = {}) {
  return svg.append("text").attr("x", xx).attr("y", yy).attr("dy", "0.35em")
    .attr("text-anchor", opts.anchor || "start")
    .style("font-family", FONT).style("font-size", (opts.size || 10) + "px")
    .style("font-weight", opts.bold ? "bold" : "normal").attr("fill", opts.fill || "#000").text(s);
}
txt("Temp. 850hPa", 59.5, 240);
txt("Temp. 500hPa", 59.5, 407.5);
txt("Précipitations", 59.5, 519);
txt("(°C)", 19.5, 606.5);
txt("(mm)", 710, 606.5);

// legend
const leg = svg.append("g");
leg.append("rect").attr("x", 35).attr("y", 635).attr("width", 31).attr("height", 4).attr("fill", "#ff0000");
leg.append("rect").attr("x", 225).attr("y", 635).attr("width", 31).attr("height", 4).attr("fill", "#0000ff");
leg.append("rect").attr("x", 225).attr("y", 645).attr("width", 31).attr("height", 4).attr("fill", "#000000");
txt("Moyenne des scénarios", 75, 637);
txt("Run de contrôle", 265, 637);
txt("Run CEP/ECMWF", 265, 647);
txt("50 Perts.", 369, 652.5);

leg.selectAll("rect.sq").data(MEMBER_COLORS).join("rect")
  .attr("x", (d, i) => 430 + 11 * (i % 25)).attr("y", (d, i) => i < 25 ? 644 : 650)
  .attr("width", 10).attr("height", 6).attr("fill", d => d);
leg.selectAll("text.num").data(MEMBER_LABELS).join("text")
  .attr("x", (d, i) => 435 + 11 * (i % 25)).attr("y", (d, i) => i < 25 ? 639.5 : 662.5)
  .attr("dy", "0.35em").attr("text-anchor", "middle")
  .style("font-family", FONT).style("font-size", "8px").style("font-weight", "bold")
  .attr("fill", "#000").text(d => d);

// title box
svg.append("rect").attr("x", 20.5).attr("y", 668.5).attr("width", 418).attr("height", 30)
  .attr("fill", "none").attr("stroke", "#000").attr("stroke-width", 1.5);
txt("Diagramme ensembles ECMWF/CEP 0.4° sur 360h pour Lille", 29.5, 677, {bold: true, size: 11.5});
txt("Températures 850hPa et 500hPa (°C) , précipitations (mm)", 29.5, 691.5);
txt("Ensemble ECMWF/CEP du 06/01/2024 - 12Z", 449.5, 675);
txt("Copyright 2024 Meteociel.fr - ECMWF", 449.5, 691.5, {bold: true, size: 11.5});

// temporary data-length check
const bad = [];
T850_MEMBERS.forEach((m, k) => { if (m.length !== MEMBER_HOURS.length) bad.push("T850 m" + (k + 1) + ":" + m.length); });
T500_MEMBERS.forEach((m, k) => { if (m.length !== MEMBER_HOURS.length) bad.push("T500 m" + (k + 1) + ":" + m.length); });
PRECIP_MEMBERS.forEach((m, k) => { if (m.length !== PRECIP_MEMBER_HOURS.length) bad.push("P m" + (k + 1) + ":" + m.length); });
if (bad.length) txt("CHECK " + bad.join(" "), 60, 10, {fill: "#f00", size: 9});
</script></body></html>
